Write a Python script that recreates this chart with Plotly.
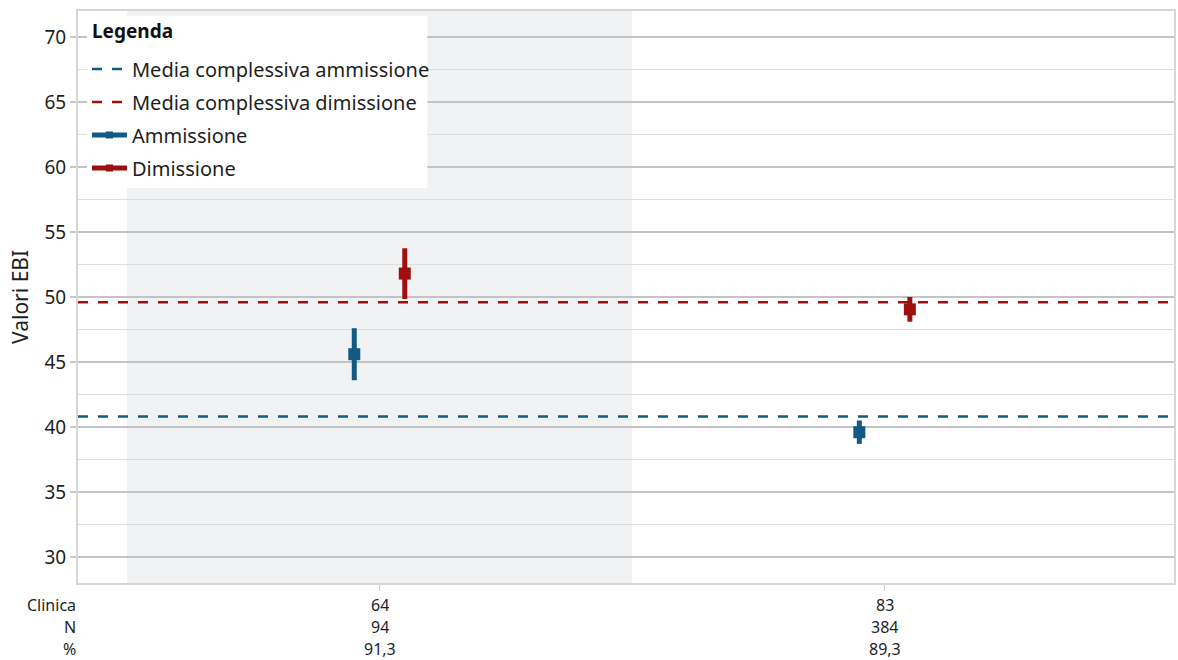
import plotly.graph_objects as go

# Cliniche e statistiche di riepilogo
cliniche = ["64", "83"]
n_pazienti = ["94", "384"]
percentuali = ["91,3", "89,3"]
etichette_righe = ["Clinica", "N", "%"]

# Valori medi EBI e semiampiezza degli intervalli
ammissione = [45.6, 39.6]
ammissione_err = [2.0, 0.9]
dimissione = [51.8, 49.05]
dimissione_err = [1.95, 0.95]

# Medie complessive
media_ammissione = 40.8
media_dimissione = 49.6

BLU = "#125a84"
ROSSO = "#9e0f0f"
FONT = "Noto Sans"
TESTO = "#1e1e1e"

pos = list(range(len(cliniche)))
offset = 0.05
x_min, x_max = -0.597, 1.573

L, R, T, B = 78, 2, 11, 77
W, H = 1178, 660
PW, PH = W - L - R, H - T - B


def px_x(px):
    return (px - L) / PW


def px_y(py):
    return (H - B - py) / PH


fig = go.Figure()

# Medie complessive (linee tratteggiate)
fig.add_trace(go.Scatter(
    x=[x_min, x_max], y=[media_ammissione] * 2, mode="lines",
    line=dict(color=BLU, width=2.5, dash="10px,10px"),
    name="Media complessiva ammissione", legendrank=1, legendgroup="g1"))
fig.add_trace(go.Scatter(
    x=[x_min, x_max], y=[media_dimissione] * 2, mode="lines",
    line=dict(color=ROSSO, width=2.5, dash="10px,10px"),
    name="Media complessiva dimissione", legendrank=2, legendgroup="g2"))

# Punti con barre d'errore
fig.add_trace(go.Scatter(
    x=[p - offset for p in pos], y=ammissione, mode="markers",
    marker=dict(symbol="square", size=12, color=BLU),
    error_y=dict(type="data", array=ammissione_err, color=BLU, thickness=5, width=0),
    showlegend=False))
fig.add_trace(go.Scatter(
    x=[p + offset for p in pos], y=dimissione, mode="markers",
    marker=dict(symbol="square", size=12, color=ROSSO),
    error_y=dict(type="data", array=dimissione_err, color=ROSSO, thickness=5, width=0),
    showlegend=False))

# Voci di legenda per le serie puntuali
for nome, col, rank in [("Ammissione", BLU, 3), ("Dimissione", ROSSO, 4)]:
    fig.add_trace(go.Scatter(
        x=[None], y=[None], mode="lines+markers", name=nome, legendrank=rank,
        legendgroup=f"g{rank}",
        line=dict(color=col, width=5),
        marker=dict(symbol="square", size=7, color=col)))

# Banda grigia della prima clinica
fig.add_shape(type="rect", xref="x", yref="paper", x0=-0.5, x1=0.5, y0=0, y1=1,
              fillcolor="#f1f2f4", line=dict(width=0), layer="below")

# Riquadro bianco della legenda con titolo
fig.add_shape(type="rect", xref="paper", yref="paper",
              x0=px_x(87), x1=px_x(428), y0=px_y(188), y1=px_y(16),
              fillcolor="white", line=dict(width=0), layer="above")
fig.add_annotation(xref="paper", yref="paper", x=px_x(90), y=px_y(31),
                   xanchor="left", yanchor="middle", showarrow=False,
                   text="<b>Legenda</b>", font=dict(family=FONT, size=19, color="#111"))

# Titolo dell'asse y
fig.add_annotation(xref="paper", yref="paper", x=0, y=0.5, xshift=-58,
                   xanchor="center", yanchor="middle", textangle=-90, showarrow=False,
                   text="Valori EBI", font=dict(family=FONT, size=21, color=TESTO))

# Tabella sotto l'asse x: intestazioni e valori per clinica
righe = [cliniche, n_pazienti, percentuali]
for i, (etichetta, valori) in enumerate(zip(etichette_righe, righe)):
    shift = -22 - 22 * i
    fig.add_annotation(
        xref="paper", yref="paper", x=0, y=0, xanchor="right", yanchor="middle",
        yshift=shift, showarrow=False, text=etichetta, height=20,
        font=dict(family=FONT, size=16, color=TESTO))
    for p, v in zip(pos, valori):
        fig.add_annotation(
            xref="x", yref="paper", x=p, y=0, xanchor="center", yanchor="middle",
            yshift=shift, showarrow=False, text=v, height=20,
            font=dict(family=FONT, size=16, color=TESTO))

fig.update_layout(
    width=W, height=H,
    margin=dict(l=L, r=R, t=T, b=B),
    paper_bgcolor="white", plot_bgcolor="white",
    font=dict(family=FONT, size=19, color=TESTO),
    showlegend=True,
    legend=dict(
        x=px_x(87), y=px_y(49.5), xanchor="left", yanchor="top",
        bgcolor="rgba(0,0,0,0)", borderwidth=0,
        font=dict(family=FONT, size=20, color=TESTO),
        itemwidth=35, tracegroupgap=4),
    xaxis=dict(
        range=[x_min, x_max], tickmode="array", tickvals=pos, showticklabels=False,
        showgrid=False, zeroline=False,
        ticks="outside", ticklen=6, tickcolor="#d0d0d0", tickwidth=1,
        showline=True, linecolor="#d6d6d6", linewidth=2, mirror=True),
    yaxis=dict(
        range=[28, 72], tickmode="array", tickvals=[30, 35, 40, 45, 50, 55, 60, 65, 70],
        tickfont=dict(family=FONT, size=19, color=TESTO),
        showgrid=True, gridcolor="#c3c3c3", gridwidth=2, zeroline=False,
        ticks="outside", ticklen=6, tickcolor="#c8c8c8", tickwidth=2,
        minor=dict(dtick=2.5, tick0=27.5, showgrid=True, gridcolor="#dedede", gridwidth=1),
        showline=True, linecolor="#d6d6d6", linewidth=2, mirror=True),
)

fig.write_html("out.html")
